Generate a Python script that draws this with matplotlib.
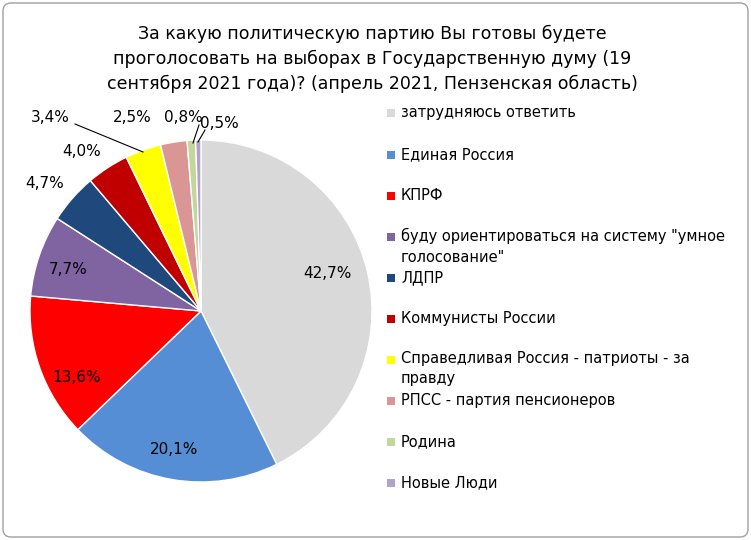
import matplotlib
matplotlib.use("Agg")
import matplotlib.pyplot as plt
from matplotlib.patches import FancyBboxPatch, Rectangle
import numpy as np

categories = ["затрудняюсь ответить", "Единая Россия", "КПРФ",
              "буду ориентироваться на систему \"умное\nголосование\"", "ЛДПР",
              "Коммунисты России", "Справедливая Россия - патриоты - за\nправду",
              "РПСС - партия пенсионеров", "Родина", "Новые Люди"]
values = [42.7, 20.1, 13.6, 7.7, 4.7, 4.0, 3.4, 2.5, 0.8, 0.5]
labels = ["42,7%", "20,1%", "13,6%", "7,7%", "4,7%", "4,0%", "3,4%", "2,5%", "0,8%", "0,5%"]
colors = ["#D9D9D9", "#558ED5", "#FF0000", "#8064A2", "#1F497D",
          "#C00000", "#FFFF00", "#D99694", "#C3D69B", "#B3A2C7"]

W, H = 751, 540
fig = plt.figure(figsize=(W/100, H/100), dpi=100)
ax = fig.add_axes([0, 0, 1, 1])
ax.set_xlim(0, W); ax.set_ylim(0, H); ax.axis("off")
ax.add_patch(FancyBboxPatch((3, 3), W-6, H-6, boxstyle="round,pad=0,rounding_size=8",
                            fc="white", ec="#A0A0A0", lw=1))

cx, cy, r = 201, H-311, 171
ax.pie(values, colors=colors, startangle=90, counterclock=False, center=(cx, cy),
       radius=r, wedgeprops=dict(ec="white", lw=1), frame=True)
ax.set_xlim(0, W); ax.set_ylim(0, H); ax.set_aspect("equal"); ax.axis("off")

fs = 11
pos = [(327, 274), (174, 449), (77, 377), (68, 270), (45, 184), (82, 152),
       (50, 117), (132, 117), (183, 117), (219, 124)]
for (x, y), t in zip(pos, labels):
    ax.text(x, H-y, t, ha="center", va="center", fontsize=fs, color="#000000")
# leader lines
ax.plot([75, 143], [H-124, H-152], color="black", lw=0.8)
ax.plot([199, 193], [H-125, H-143], color="black", lw=0.8)
ax.plot([205, 198], [H-130, H-142], color="black", lw=0.8)

title = ("За какую политическую партию Вы готовы будете\n"
         "проголосовать на выборах в Государственную думу (19\n"
         "сентября 2021 года)? (апрель 2021, Пензенская область)")
ax.text(372, H-59, title, ha="center", va="center", fontsize=12.5, linespacing=1.5)

ly = [113, 155, 196, 237, 278, 319, 360, 401, 442, 483]
for y, c, t in zip(ly, colors, categories):
    ax.add_patch(Rectangle((387, H-y-4), 8, 8, fc=c, ec="none"))
    ax.text(401, H-y, t, ha="left", va="top" if "\n" in t else "center",
            fontsize=10.5, linespacing=1.45,
            transform=ax.transData) if False else None
    if "\n" in t:
        ax.text(401, H-y+9, t, ha="left", va="top", fontsize=10.5, linespacing=1.45)
    else:
        ax.text(401, H-y, t, ha="left", va="center", fontsize=10.5)

fig.savefig("out.png", dpi=100)
